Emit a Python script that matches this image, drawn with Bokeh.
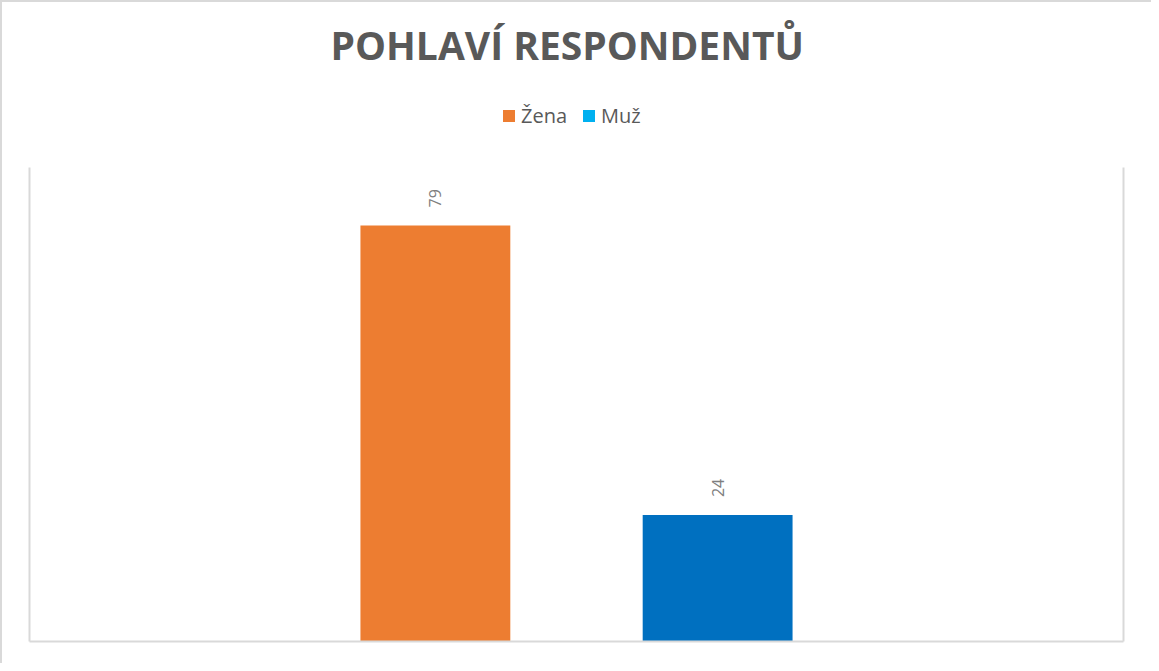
import math
from bokeh.plotting import figure
from bokeh.layouts import column
from bokeh.models import (FactorRange, Range1d, LinearAxis, Legend, LegendItem,
                          ColumnDataSource, FixedTicker)
from bokeh.embed import file_html
from bokeh.resources import INLINE
from bokeh.core.properties import value

# ---- data ----
categories = ["Žena", "Muž"]
counts = [79, 24]
bar_colors = ["#ED7D31", "#0070C0"]
legend_colors = ["#ED7D31", "#00B0F0"]
title_text = "POHLAVÍ RESPONDENTŮ"

FONT = "Open Sans"
GRID = "#D9D9D9"
W = 1149
HEADER_H = 165
MAIN_H = 496


def make_x_range():
    return FactorRange(factors=categories, range_padding=0.938,
                       range_padding_units="absolute")


src = ColumnDataSource(dict(cat=categories, val=counts, color=bar_colors,
                            lcolor=legend_colors, label=[str(v) for v in counts]))

# ---------------- header: title + legend ----------------
head = figure(width=W, height=HEADER_H, x_range=make_x_range(), y_range=Range1d(0, 90),
              x_axis_type=None, y_axis_type=None,
              output_backend="svg", toolbar_location=None,
              min_border_left=0, min_border_right=0, min_border_top=0, min_border_bottom=0)
head.outline_line_color = None
head.grid.visible = False
head.title.text = title_text
head.title.align = "left"
head.title.offset = 301
head.title.text_font = FONT
head.title.text_font_size = "39px"
head.title.text_font_style = "bold"
head.title.text_color = "#595959"
head.title.standoff = 26

legend_src = head.vbar(x="cat", top="val", width=0.5, fill_color="lcolor",
                       line_color=None, source=src)
legend_src.visible = False
legend = Legend(items=[LegendItem(label=c, renderers=[legend_src], index=i)
                       for i, c in enumerate(categories)],
                orientation="horizontal", location=(472, 38),
                glyph_width=15, glyph_height=15, label_standoff=5, spacing=14,
                padding=0, margin=0, border_line_color=None, background_fill_alpha=0,
                label_text_font=FONT, label_text_font_size="20px",
                label_text_color="#595959")
head.add_layout(legend)

# ---------------- main chart ----------------
p = figure(width=W, height=MAIN_H, x_range=make_x_range(), y_range=Range1d(0, 90),
           x_axis_type=None, y_axis_type=None,
           output_backend="svg", toolbar_location=None,
           min_border_left=27, min_border_right=28, min_border_bottom=22,
           min_border_top=0)
p.outline_line_color = None
p.grid.visible = False

p.vbar(x="cat", top="val", width=0.531, fill_color="color", line_color=None, source=src)
p.text(x="cat", y="val", text="label", angle=math.pi / 2, text_align="left",
       text_baseline="middle", y_offset=-18, text_font=value(FONT),
       text_font_size="16px", text_color="#7F7F7F", source=src)

# axes only serve as the plot-area border lines
for place in ("left", "right", "below"):
    ax = LinearAxis(ticker=FixedTicker(ticks=[], minor_ticks=[]))
    ax.axis_line_color = GRID
    ax.axis_line_width = 2
    ax.major_tick_line_color = None
    ax.minor_tick_line_color = None
    ax.major_tick_out = 0
    ax.major_tick_in = 0
    p.add_layout(ax, place)

layout = column(head, p, spacing=0)
layout.styles = {"border-left": "2px solid #D9D9D9", "border-top": "2px solid #D9D9D9"}

open("out.html", "w").write(file_html(layout, INLINE))
